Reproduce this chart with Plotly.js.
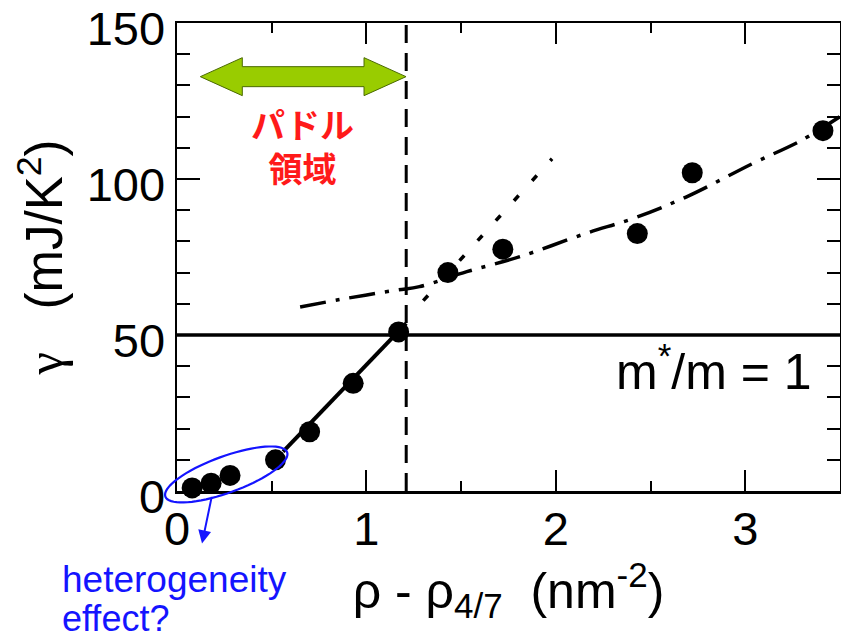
<!DOCTYPE html>
<html>
<head>
<meta charset="utf-8">
<script src="https://cdn.plot.ly/plotly-3.0.1.min.js"></script>
<style>html,body{margin:0;padding:0;background:#fff;}#chart{width:841px;height:639px;}</style>
</head>
<body>
<div id="chart"></div>
<script>
// ---- data ----
const rho   = [0.08, 0.18, 0.28, 0.52, 0.70, 0.93, 1.17, 1.43, 1.72, 2.43, 2.72, 3.41];
const gamma = [1.0, 2.5, 5.0, 10.0, 19.0, 34.5, 51.0, 70.0, 77.5, 82.5, 102.0, 115.5];

// linear fit through the low-density points (solid)
const fitX = [0.56, 1.21];
const fitY = [12.6, 53.7];

// extrapolation (short dashes)
const dotX = [1.30, 1.98];
const dotY = [61.0, 106.5];

// high-density curve (dash-dot)
const curveX = [0.65, 0.90, 1.16, 1.28, 1.53, 1.81, 2.16, 2.41, 2.69, 3.04, 3.30, 3.50];
const curveY = [59.0, 61.8, 64.4, 65.5, 70.3, 75.1, 82.6, 87.4, 94.3, 105.0, 112.5, 120.0];

// reference lines
const puddleEdgeX = 1.21;   // vertical dashed line
const freeMassY = 50;       // m*/m = 1 line

// puddle-region arrow span
const arrowX = [0.123, 1.209];
const arrowY = 132.8;

// heterogeneity ellipse centre (data units)
const ellipseC = [0.26, 5.3];

const xTicks = [0, 1, 2, 3];
const yTicks = [0, 50, 100, 150];
const xRange = [0, 3.5];
const yRange = [0, 150];

// ---- layout helpers ----
const W = 841, H = 639;
const M = {l: 177, r: 1, t: 23, b: 148};
const pw = W - M.l - M.r, ph = H - M.t - M.b;
const pxX = pw / (xRange[1] - xRange[0]);   // px per x unit
const pxY = ph / (yRange[1] - yRange[0]);   // px per y unit
const toPX = x => (x - xRange[0]) / (xRange[1] - xRange[0]);  // data -> paper
const toPY = y => (y - yRange[0]) / (yRange[1] - yRange[0]);
const pixToPY = py => (H - M.b - py) / ph;                      // canvas px -> paper y

// green double arrow as a path (head sizes in px)
function doubleArrowPath(x0, x1, y, headLen, headHalf, shaftHalf) {
  const hl = headLen / pxX, hh = headHalf / pxY, sh = shaftHalf / pxY;
  const p = [
    [x0, y], [x0 + hl, y + hh], [x0 + hl, y + sh], [x1 - hl, y + sh],
    [x1 - hl, y + hh], [x1, y], [x1 - hl, y - hh], [x1 - hl, y - sh],
    [x0 + hl, y - sh], [x0 + hl, y - hh]
  ];
  return 'M' + p.map(q => q[0] + ',' + q[1]).join(' L') + ' Z';
}

// tilted ellipse in paper coords (sizes in px) so it is not clipped by the axes
function ellipsePath(cx, cy, a, b, angDeg) {
  const t = angDeg * Math.PI / 180;
  const pts = [];
  for (let i = 0; i <= 72; i++) {
    const s = i / 72 * 2 * Math.PI;
    const ex = a * Math.cos(s), ey = b * Math.sin(s);
    const dx = ex * Math.cos(t) - ey * Math.sin(t);
    const dy = ex * Math.sin(t) + ey * Math.cos(t);
    pts.push([toPX(cx) + dx / pw, toPY(cy) + dy / ph]);
  }
  return 'M' + pts.map(q => q[0].toFixed(5) + ',' + q[1].toFixed(5)).join(' L') + ' Z';
}

const FONT = 'Liberation Sans, Arial, sans-serif';
const BLUE = '#1414ff';

const traces = [
  {x: fitX, y: fitY, mode: 'lines', line: {color: '#000', width: 4}, hoverinfo: 'skip'},
  {x: dotX, y: dotY, mode: 'lines', line: {color: '#000', width: 3.5, dash: '7px,20px'}, hoverinfo: 'skip'},
  {x: curveX, y: curveY, mode: 'lines', line: {color: '#000', width: 3.5, dash: '26px,10px,4px,10px', shape: 'spline'}, hoverinfo: 'skip'},
  {x: rho, y: gamma, mode: 'markers', marker: {color: '#000', size: 21}, cliponaxis: false}
];

const layout = {
  width: W, height: H,
  margin: M,
  showlegend: false,
  paper_bgcolor: '#fff', plot_bgcolor: '#fff',
  font: {family: FONT, color: '#000'},
  xaxis: {
    range: xRange, tickvals: xTicks, ticktext: xTicks.map(String),
    ticks: 'inside', ticklen: 21, tickwidth: 2, tickcolor: '#000',
    minor: {dtick: 0.5, ticks: 'inside', ticklen: 10, tickwidth: 2, tickcolor: '#000', showgrid: false},
    showline: true, linewidth: 2.5, linecolor: '#000', mirror: 'ticks',
    showgrid: false, zeroline: false, ticklabeloverflow: 'allow', ticklabelstandoff: -5,
    tickfont: {size: 47, family: FONT, color: '#000'},
    title: {text: 'ρ - ρ<sub>4/7</sub>\u00a0\u00a0(nm<sup>-2</sup>)', font: {size: 50, family: FONT, color: '#000'}, standoff: 10}
  },
  yaxis: {
    range: yRange, tickvals: yTicks, ticktext: yTicks.map(String),
    ticks: 'inside', ticklen: 23, tickwidth: 2, tickcolor: '#000',
    minor: {dtick: 10, ticks: 'inside', ticklen: 13, tickwidth: 2, tickcolor: '#000', showgrid: false},
    showline: true, linewidth: 2.5, linecolor: '#000', mirror: 'ticks',
    showgrid: false, zeroline: false, ticklabeloverflow: 'allow', ticklabelshift: 6,
    tickfont: {size: 47, family: FONT, color: '#000'},
    title: {text: '<span style="font-family:Liberation Serif">γ</span>\u00a0\u00a0\u00a0(mJ/K<sup>2</sup>)\u00a0', font: {size: 51, family: FONT, color: '#000'}, standoff: 8}
  },
  shapes: [
    {type: 'line', xref: 'x', yref: 'y', x0: xRange[0], x1: xRange[1], y0: freeMassY, y1: freeMassY,
     line: {color: '#000', width: 3.5}},
    {type: 'line', xref: 'x', yref: 'y', x0: puddleEdgeX, x1: puddleEdgeX, y0: yRange[0], y1: yRange[1],
     line: {color: '#000', width: 3, dash: '18px,10px'}},
    {type: 'path', xref: 'x', yref: 'y', path: doubleArrowPath(arrowX[0], arrowX[1], arrowY, 42, 19, 10),
     fillcolor: '#99cc00', line: {color: '#4a6a00', width: 1}},
    {type: 'path', xref: 'paper', yref: 'paper', path: ellipsePath(ellipseC[0], ellipseC[1], 64.8, 18.2, 20),
     fillcolor: 'rgba(0,0,0,0)', line: {color: BLUE, width: 2.2}}
  ],
  annotations: [
    {xref: 'x', yref: 'y', x: 0.66, y: 110.8, xanchor: 'center', yanchor: 'middle', showarrow: false,
     text: '<b>パドル</b><br><b>領域</b>',
     font: {family: 'Noto Sans CJK JP, sans-serif', size: 34, color: '#ff1a1a'}},
    {xref: 'x', yref: 'y', x: 3.365, y: 39.3, xanchor: 'right', yanchor: 'middle', showarrow: false,
     text: 'm<sup>*</sup>/m = 1', font: {family: FONT, size: 50, color: '#000'}},
    {xref: 'paper', yref: 'paper', x: toPX(0.132), y: toPY(-16.8), ax: 10, ay: -48, axref: 'pixel', ayref: 'pixel',
     showarrow: true, text: '', arrowhead: 2, arrowsize: 1.3, arrowwidth: 2, arrowcolor: BLUE},
    {xref: 'paper', yref: 'paper', x: (60 - M.l) / pw, y: pixToPY(579), xanchor: 'left', yanchor: 'middle', align: 'left',
     showarrow: false, text: 'heterogeneity', font: {family: FONT, size: 37, color: BLUE}},
    {xref: 'paper', yref: 'paper', x: (60 - M.l) / pw, y: pixToPY(618), xanchor: 'left', yanchor: 'middle', align: 'left',
     showarrow: false, text: 'effect?', font: {family: FONT, size: 36, color: BLUE}}
  ]
};

Plotly.newPlot('chart', traces, layout, {displayModeBar: false, staticPlot: true});
</script>
</body>
</html>
